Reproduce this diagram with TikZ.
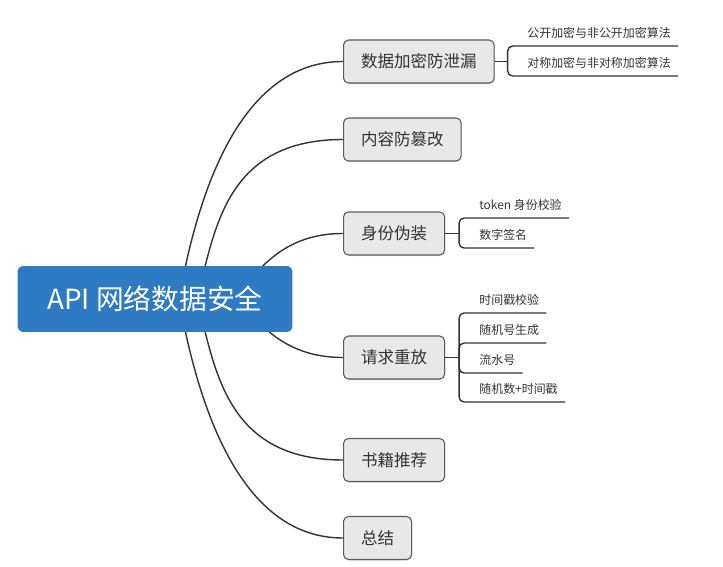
\documentclass[tikz,border=0pt]{standalone}
\usepackage{fontspec}
\newfontfamily\cjk{Noto Sans CJK SC}
\usetikzlibrary{shadows}
\definecolor{rootblue}{HTML}{2E7BC4}
\definecolor{boxgray}{HTML}{E8E8E8}
\definecolor{boxline}{HTML}{5A5A5A}
\definecolor{linegray}{HTML}{333333}
\definecolor{textgray}{HTML}{333333}

\begin{document}
\begin{tikzpicture}[x=0.02cm, y=-0.02cm,
  every node/.style={font=\cjk},
  rootbox/.style={rectangle, rounded corners=3.4pt, fill=rootblue, text=white, minimum width=5.5cm, minimum height=1.32cm, font=\cjk\fontsize{15.8}{18}\selectfont},
  topic/.style={anchor=west, rectangle, rounded corners=2.8pt, draw=boxline, line width=0.6pt, fill=boxgray, text=textgray, minimum height=0.86cm, inner xsep=0.35cm, font=\cjk\fontsize{9.4}{11}\selectfont, drop shadow={shadow xshift=0.4pt, shadow yshift=-0.6pt, opacity=0.25}},
  leaf/.style={anchor=south west, inner xsep=0.14cm, inner ysep=0pt, minimum height=0.5cm, text=textgray, font=\cjk\fontsize{6.8}{8}\selectfont},
  link/.style={draw=linegray, line width=0.8pt},
  elbow/.style={link, rounded corners=0.1cm}]
  \useasboundingbox (0,0) rectangle (723,567);
  \path (343,61.5) node[topic] (enc) {数据加密防泄漏} (343,139.5) node[topic] (tamper) {内容防篡改}
    (343,233.5) node[topic] (spoof) {身份伪装} (343,357.5) node[topic] (replay) {请求重放}
    (343,460) node[topic] (books) {书籍推荐} (343,538) node[topic] (summary) {总结};
  \path (520,46) node[leaf] (encA) {公开加密与非公开加密算法} (520,76) node[leaf] (encB) {对称加密与非对称加密算法}
    (472,218) node[leaf] (spoofA) {token 身份校验} (472,248) node[leaf] (spoofB) {数字签名}
    (472,313) node[leaf] (replayA) {时间戳校验} (472,343) node[leaf] (replayB) {随机号生成}
    (472,373) node[leaf] (replayC) {流水号} (472,402) node[leaf] (replayD) {随机数+时间戳};
  \coordinate (s1) at (179,299); \coordinate (s2) at (197,299); \coordinate (s3) at (230,299);
  \coordinate (s4) at (232,299); \coordinate (s5) at (197,299); \coordinate (s6) at (179,299);
  \draw[link] (s1) .. controls +(21,-119) and +(-98,0) .. (enc.west);
  \draw[link] (s2) .. controls +(18,-69) and +(-118,0) .. (tamper.west);
  \draw[link] (s3) .. controls +(25,-19) and +(-68,0) .. (spoof.west);
  \draw[link] (s4) .. controls +(25,16) and +(-66,0) .. (replay.west);
  \draw[link] (s5) .. controls +(18,69) and +(-118,0) .. (books.west);
  \draw[link] (s6) .. controls +(21,119) and +(-98,0) .. (summary.west);
  \draw[link] (enc.east) -- ++(13,0) coordinate (encJ);
  \draw[link] (spoof.east) -- ++(14,0) coordinate (spoofJ);
  \draw[link] (replay.east) -- ++(14,0) coordinate (replayJ);
  \draw[elbow] (encJ) |- (encA.south west) -- (encA.south east);
  \draw[elbow] (encJ) |- (encB.south west) -- (encB.south east);
  \draw[elbow] (spoofJ) |- (spoofA.south west) -- (spoofA.south east);
  \draw[elbow] (spoofJ) |- (spoofB.south west) -- (spoofB.south east);
  \draw[elbow] (replayJ) |- (replayA.south west) -- (replayA.south east);
  \draw[elbow] (replayJ) |- (replayB.south west) -- (replayB.south east);
  \draw[elbow] (replayJ) |- (replayC.south west) -- (replayC.south east);
  \draw[elbow] (replayJ) |- (replayD.south west) -- (replayD.south east);
  \path (155,299) node[rootbox] (root) {API 网络数据安全};
\end{tikzpicture}
\end{document}
